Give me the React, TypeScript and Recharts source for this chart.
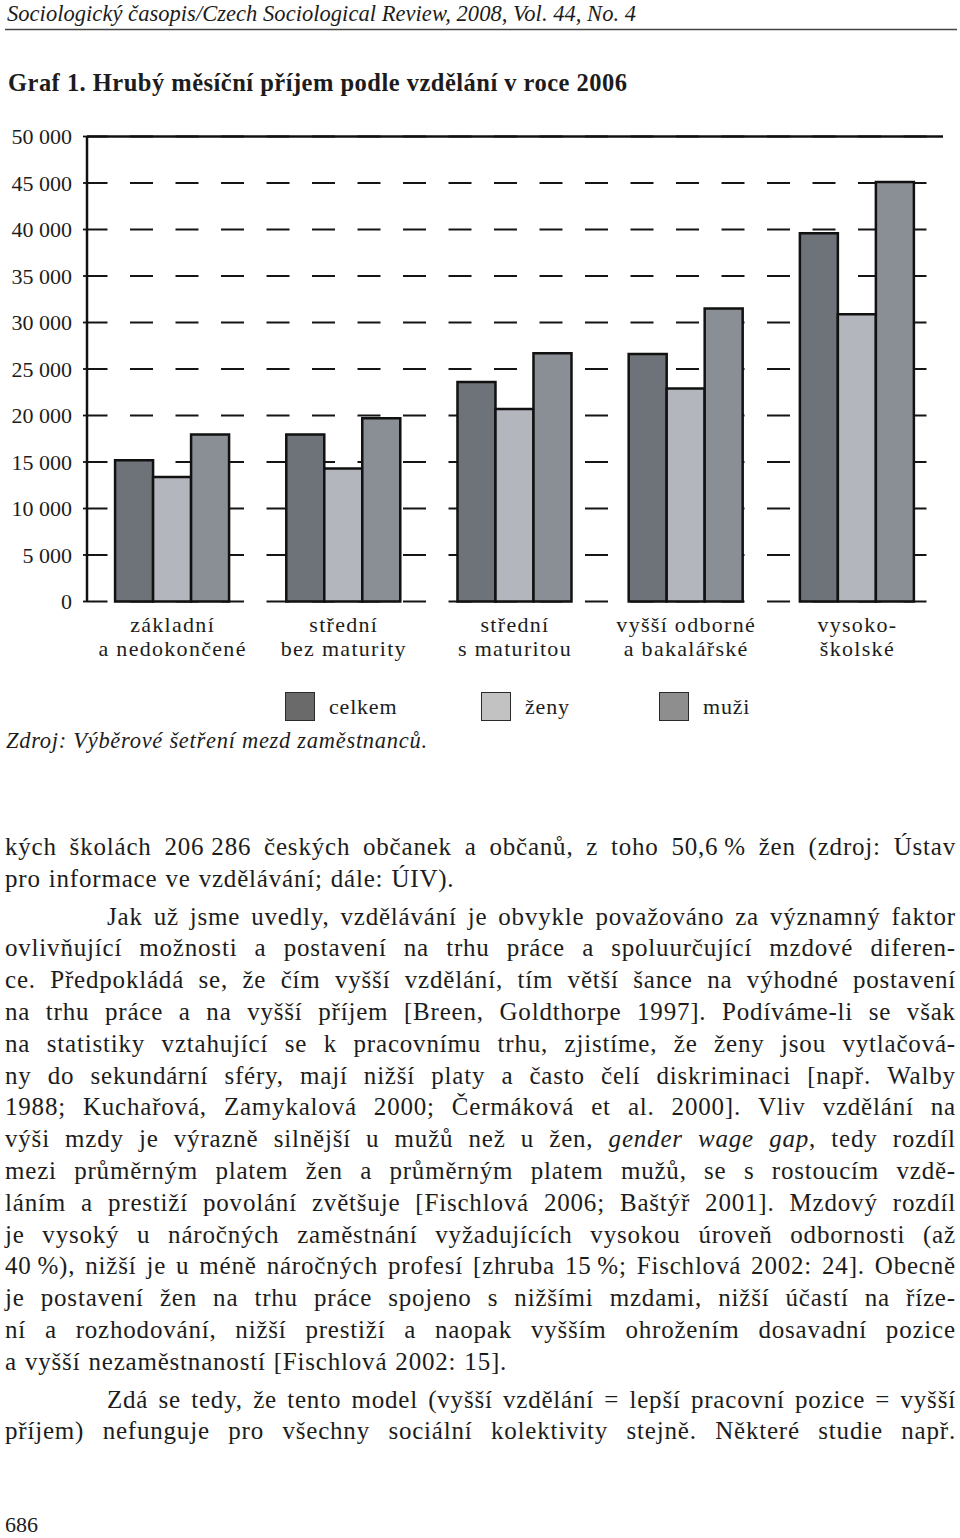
import React from "react";
import { BarChart, Bar, XAxis, YAxis, CartesianGrid, ReferenceLine, Legend } from "recharts";

// ---------- data ----------
const categories = [
  "základní\na nedokončené",
  "střední\nbez maturity",
  "střední\ns maturitou",
  "vyšší odborné\na bakalářské",
  "vysoko-\nškolské",
];
const celkem = [15200, 17950, 23600, 26600, 39600];
const zeny = [13400, 14300, 20700, 22900, 30900];
const muzi = [17950, 19700, 26700, 31500, 45100];
const yTicks = [0, 5000, 10000, 15000, 20000, 25000, 30000, 35000, 40000, 45000, 50000];
const boundaryTicks = [0, 1, 2, 3, 4, 5];
const seriesNames = ["celkem", "ženy", "muži"];

const headerText = "Sociologický časopis/Czech Sociological Review, 2008, Vol. 44, No. 4";
const titleText = "Graf 1. Hrubý měsíční příjem podle vzdělání v roce 2006";
const sourceText = "Zdroj: Výběrové šetření mezd zaměstnanců.";
const pageNumber = "686";

// body lines: [text, justified, indent, paragraphStart]
const bodyLines: [string, boolean, boolean, boolean][] = [
  ["kých školách 206\u00a0286 českých občanek a občanů, z toho 50,6\u2009% žen (zdroj: Ústav", true, false, false],
  ["pro informace ve vzdělávání; dále: ÚIV).", false, false, false],
  ["Jak už jsme uvedly, vzdělávání je obvykle považováno za významný faktor", true, true, true],
  ["ovlivňující možnosti a postavení na trhu práce a spoluurčující mzdové diferen-", true, false, false],
  ["ce. Předpokládá se, že čím vyšší vzdělání, tím větší šance na výhodné postavení", true, false, false],
  ["na trhu práce a na vyšší příjem [Breen, Goldthorpe 1997]. Podíváme-li se však", true, false, false],
  ["na statistiky vztahující se k pracovnímu trhu, zjistíme, že ženy jsou vytlačová-", true, false, false],
  ["ny do sekundární sféry, mají nižší platy a často čelí diskriminaci [např. Walby", true, false, false],
  ["1988; Kuchařová, Zamykalová 2000; Čermáková et al. 2000]. Vliv vzdělání na", true, false, false],
  ["výši mzdy je výrazně silnější u mužů než u žen, *gender wage gap*, tedy rozdíl", true, false, false],
  ["mezi průměrným platem žen a průměrným platem mužů, se s rostoucím vzdě-", true, false, false],
  ["láním a prestiží povolání zvětšuje [Fischlová 2006; Baštýř 2001]. Mzdový rozdíl", true, false, false],
  ["je vysoký u náročných zaměstnání vyžadujících vysokou úroveň odbornosti (až", true, false, false],
  ["40\u2009%), nižší je u méně náročných profesí [zhruba 15\u2009%; Fischlová 2002: 24]. Obecně", true, false, false],
  ["je postavení žen na trhu práce spojeno s nižšími mzdami, nižší účastí na říze-", true, false, false],
  ["ní a rozhodování, nižší prestiží a naopak vyšším ohrožením dosavadní pozice", true, false, false],
  ["a vyšší nezaměstnaností [Fischlová 2002: 15].", false, false, false],
  ["Zdá se tedy, že tento model (vyšší vzdělání = lepší pracovní pozice = vyšší", true, true, true],
  ["příjem) nefunguje pro všechny sociální kolektivity stejně. Některé studie např.", true, false, false],
];

const data = categories.map((cat, i) => ({
  cat,
  celkem: celkem[i],
  zeny: zeny[i],
  muzi: muzi[i],
}));

// ---------- styles ----------
const SERIF = "'Liberation Serif', 'Times New Roman', serif";
const barColors = ["#6e7279", "#b3b6bd", "#8a8e95"];
const legendColors = ["#6a6a6a", "#c2c2c2", "#8e8e8e"];
const INK = "#1c1c1c";

const formatTick = (v: number) => (v === 0 ? "0" : `${v / 1000}\u00a0000`);

const CategoryTick = (props: any) => {
  const { x, y, payload } = props;
  const lines = String(payload.value).split("\n");
  return (
    <text x={x} y={y} textAnchor="middle" fontFamily={SERIF} fontSize={22} fill={INK} letterSpacing={1.3}>
      {lines.map((l, i) => (
        <tspan key={i} x={x} dy={i === 0 ? 30.5 : 23.5}>
          {l}
        </tspan>
      ))}
    </text>
  );
};

const renderLegend = (props: any) => {
  const payload = [...(props.payload || [])].sort(
    (a: any, b: any) => seriesNames.indexOf(a.value) - seriesNames.indexOf(b.value)
  );
  const widths = [196, 178, 120];
  return (
    <div style={{ display: "flex", alignItems: "center", paddingLeft: 285, height: 29 }}>
      {payload.map((p: any, i: number) => {
        const idx = seriesNames.indexOf(p.value);
        return (
          <div key={i} style={{ display: "flex", alignItems: "center", width: widths[i] }}>
            <div
              style={{
                width: 28,
                height: 27,
                background: legendColors[idx],
                border: "1.5px solid #2a2a2a",
                marginRight: 14,
              }}
            />
            <span style={{ fontFamily: SERIF, fontSize: 22, color: INK, letterSpacing: 0.8 }}>{p.value}</span>
          </div>
        );
      })}
    </div>
  );
};

function renderWords(line: string) {
  let italic = false;
  return line.split(" ").map((w, i) => {
    const parts = w.split("*");
    const segs = parts.map((p, j) => {
      if (j > 0) italic = !italic;
      return p ? (
        <span key={j} style={italic ? { fontStyle: "italic" } : undefined}>
          {p}
        </span>
      ) : null;
    });
    return <span key={i}>{segs}</span>;
  });
}

const BodyText = () => (
  <div
    style={{
      position: "absolute",
      left: 5,
      top: 831,
      width: 951,
      fontFamily: SERIF,
      fontSize: 25,
      color: INK,
      letterSpacing: 0.8,
    }}
  >
    {bodyLines.map(([text, justified, indent, para], i) => {
      const words = renderWords(text);
      const base: React.CSSProperties = {
        height: 31.8,
        lineHeight: "31.8px",
        whiteSpace: "nowrap",
        marginTop: para ? 6 : 0,
        paddingLeft: indent ? 102 : 0,
      };
      if (justified) {
        return (
          <div key={i} style={{ ...base, display: "flex", justifyContent: "space-between" }}>
            {words}
          </div>
        );
      }
      return (
        <div key={i} style={{ ...base, wordSpacing: 1 }}>
          {words.map((w, k) => (
            <React.Fragment key={k}>
              {k > 0 ? " " : ""}
              {w}
            </React.Fragment>
          ))}
        </div>
      );
    })}
  </div>
);

export default function App() {
  return (
    <div style={{ position: "relative", width: 960, height: 1538, background: "#fff", overflow: "hidden" }}>
      <style>{`body{margin:0;background:#fff}`}</style>

      <div style={{ position: "absolute", left: 0, top: 0 }}>
        <BarChart
          width={960}
          height={780}
          data={data}
          margin={{ top: 136.5, right: 17, bottom: 118.5, left: 0 }}
          barCategoryGap="16.4%"
          barGap={0}
        >
          <CartesianGrid
            xAxisId="c"
            vertical={false}
            stroke="#151515"
            strokeWidth={1.8}
            strokeDasharray="23 22.5"
            strokeDashoffset={2.5}
          />
          <XAxis
            xAxisId="b"
            type="number"
            domain={[0, 5]}
            ticks={boundaryTicks}
            allowDataOverflow
            tick={false}
            tickSize={5}
            tickLine={{ stroke: "#111", strokeWidth: 2 }}
            axisLine={{ stroke: "#111", strokeWidth: 2.5 }}
            height={0}
          />
          <XAxis
            xAxisId="c"
            dataKey="cat"
            interval={0}
            tick={<CategoryTick />}
            tickLine={false}
            axisLine={false}
            tickSize={0}
            tickMargin={0}
            height={60}
          />
          <YAxis
            domain={[0, 50000]}
            ticks={yTicks}
            interval={0}
            width={87}
            tickFormatter={formatTick}
            tickSize={4}
            tickMargin={11}
            tick={{ fontFamily: SERIF, fontSize: 22, fill: INK }}
            tickLine={{ stroke: "#111", strokeWidth: 1.8 }}
            axisLine={{ stroke: "#111", strokeWidth: 2.5 }}
          />
          <YAxis
            yAxisId="r"
            orientation="right"
            domain={[0, 50000]}
            width={0}
            tick={false}
            tickLine={false}
            axisLine={{ stroke: "#111", strokeWidth: 2.5 }}
          />
          <Legend
            verticalAlign="middle"
            align="center"
            layout="horizontal"
            wrapperStyle={{ top: 692, left: 0, width: 960 }}
            content={renderLegend}
          />
          <Bar xAxisId="c" dataKey="celkem" name={seriesNames[0]} fill={barColors[0]} stroke="#111" strokeWidth={2.5} isAnimationActive={false} />
          <Bar xAxisId="c" dataKey="zeny" name={seriesNames[1]} fill={barColors[1]} stroke="#111" strokeWidth={2.5} isAnimationActive={false} />
          <Bar xAxisId="c" dataKey="muzi" name={seriesNames[2]} fill={barColors[2]} stroke="#111" strokeWidth={2.5} isAnimationActive={false} />
          <ReferenceLine xAxisId="c" y={50000} stroke="#111" strokeWidth={2.5} />
        </BarChart>
      </div>

      <svg
        width={960}
        height={1538}
        style={{ position: "absolute", left: 0, top: 0, pointerEvents: "none" }}
      >
        <text x={7} y={20.5} fontFamily={SERIF} fontStyle="italic" fontSize={22.5} fill={INK} textLength={629} lengthAdjust="spacing">
          {headerText}
        </text>
        <line x1={5} x2={957} y1={29.5} y2={29.5} stroke="#444" strokeWidth={1.5} />
        <text x={8} y={90.5} fontFamily={SERIF} fontWeight="bold" fontSize={24.5} fill={INK} textLength={619} lengthAdjust="spacing">
          {titleText}
        </text>
        <text x={6} y={748} fontFamily={SERIF} fontStyle="italic" fontSize={22.5} fill={INK} textLength={421} lengthAdjust="spacing">
          {sourceText}
        </text>
        <text x={5} y={1532} fontFamily={SERIF} fontSize={22} fill={INK}>
          {pageNumber}
        </text>
      </svg>

      <BodyText />
    </div>
  );
}
